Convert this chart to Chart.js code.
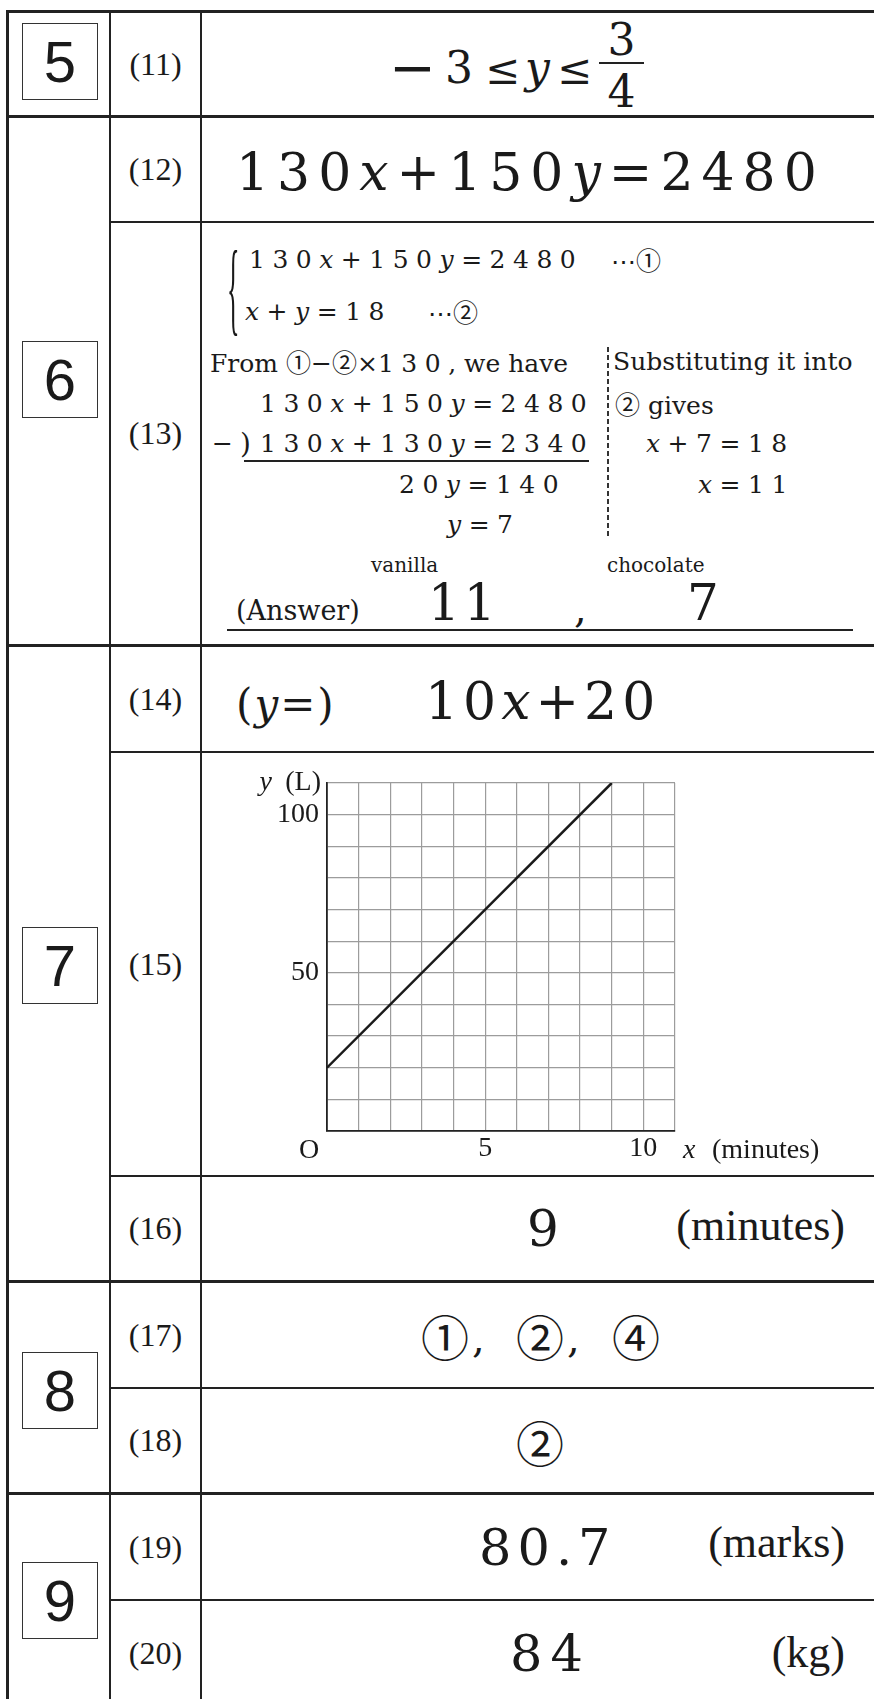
<!DOCTYPE html>
<html>
<head>
<meta charset="utf-8">
<script src="https://cdn.jsdelivr.net/npm/chart.js"></script>
<style>
body { margin: 0; background: #fff; }
#folha { position: relative; width: 874px; height: 1699px; overflow: hidden; background: #fff; color: #1a1a1a; font-family: "DejaVu Serif", serif; }
.ln { position: absolute; background: #222; }
.t { position: absolute; line-height: 1; white-space: nowrap; }
.i { font-style: italic; }
.c { font-family: "Noto Sans CJK JP", sans-serif; }
.eq { letter-spacing: 7.5px; }
.box { position: absolute; left: 22px; width: 74px; height: 75px; border: 1.5px solid #333; font: 58px "Liberation Sans", Arial, sans-serif; display: flex; align-items: center; justify-content: center; }
.q { position: absolute; left: 111px; width: 89px; display: flex; align-items: center; justify-content: center; font: 32px "Liberation Serif", serif; }
.un { position: absolute; right: 29px; font-family: "Liberation Serif", serif; font-size: 44px; }
.tr { position: absolute; left: 607px; top: 347px; width: 1.5px; height: 191px; background: repeating-linear-gradient(to bottom, #333 0 5px, transparent 5px 8px); }
</style>
</head>
<body>
<div id="folha">
  <!-- linhas da tabela -->
  <div class="ln" style="left:6px;top:10px;width:868px;height:3px"></div>
  <div class="ln" style="left:6px;top:10px;width:3px;height:1689px"></div>
  <div class="ln" style="left:109px;top:13px;width:2px;height:1686px"></div>
  <div class="ln" style="left:200px;top:13px;width:2px;height:1686px"></div>
  <div class="ln" style="left:6px;top:115px;width:868px;height:3px"></div>
  <div class="ln" style="left:6px;top:644px;width:868px;height:3px"></div>
  <div class="ln" style="left:6px;top:1280px;width:868px;height:3px"></div>
  <div class="ln" style="left:6px;top:1492px;width:868px;height:3px"></div>
  <div class="ln" style="left:110px;top:221px;width:764px;height:2px"></div>
  <div class="ln" style="left:110px;top:751px;width:764px;height:2px"></div>
  <div class="ln" style="left:110px;top:1175px;width:764px;height:2px"></div>
  <div class="ln" style="left:110px;top:1387px;width:764px;height:2px"></div>
  <div class="ln" style="left:110px;top:1599px;width:764px;height:2px"></div>

  <!-- numeros das secoes -->
  <div class="box" style="top:23px">5</div>
  <div class="box" style="top:341px">6</div>
  <div class="box" style="top:927px">7</div>
  <div class="box" style="top:1352px">8</div>
  <div class="box" style="top:1562px">9</div>

  <!-- numeros das questoes -->
  <div class="q" style="top:13px;height:102px">(11)</div>
  <div class="q" style="top:118px;height:103px">(12)</div>
  <div class="q" style="top:223px;height:421px">(13)</div>
  <div class="q" style="top:647px;height:104px">(14)</div>
  <div class="q" style="top:753px;height:422px">(15)</div>
  <div class="q" style="top:1177px;height:103px">(16)</div>
  <div class="q" style="top:1283px;height:104px">(17)</div>
  <div class="q" style="top:1389px;height:103px">(18)</div>
  <div class="q" style="top:1495px;height:104px">(19)</div>
  <div class="q" style="top:1601px;height:105px">(20)</div>

  <!-- (11) -->
  <div class="t" style="left:389px;font-size:56px" data-b="87">−</div>
  <div class="t" style="left:445px;font-size:44px" data-b="83">3</div>
  <div class="t" style="left:485px;font-size:42px" data-b="84">≤</div>
  <div class="t i" style="left:525px;font-size:44px" data-b="83">y</div>
  <div class="t" style="left:557px;font-size:42px" data-b="84">≤</div>
  <div class="ln" style="left:599px;top:62px;width:45px;height:2px"></div>
  <div class="t" style="left:599px;width:45px;text-align:center;font-size:44px" data-b="55">3</div>
  <div class="t" style="left:599px;width:45px;text-align:center;font-size:44px" data-b="107">4</div>

  <!-- (12) -->
  <div class="t" style="left:236px;font-size:52px;letter-spacing:8px" data-b="190">130<span class="i">x</span>+150<span class="i">y</span>=2480</div>

  <!-- (13) -->
  <div class="t" style="left:227px;top:235px;font:104px 'Liberation Serif';transform:scaleX(0.25);transform-origin:left top;line-height:1">{</div>
  <div class="t eq" style="left:249px;font-size:25px" data-b="268">130<span class="i">x</span>+150<span class="i">y</span>=2480</div>
  <div class="t" style="left:611px;font-size:25px" data-b="268">⋯<span class="c">①</span></div>
  <div class="t eq" style="left:245px;font-size:25px" data-b="320"><span class="i">x</span>+<span class="i">y</span>=18</div>
  <div class="t" style="left:428px;font-size:25px" data-b="320">⋯<span class="c">②</span></div>
  <div class="t" style="left:210px;font-size:25px" data-b="370">From <span class="c">①</span>−<span class="c">②</span>×<span class="eq">130</span>, we have</div>
  <div class="tr"></div>
  <div class="t" style="left:613px;font-size:25px" data-b="370">Substituting it into</div>
  <div class="t eq" style="left:260px;font-size:25px" data-b="412">130<span class="i">x</span>+150<span class="i">y</span>=2480</div>
  <div class="t" style="left:615px;font-size:25px" data-b="412"><span class="c">②</span> gives</div>
  <div class="t" style="left:212px;font-size:25px" data-b="452">−</div>
  <div class="t" style="left:240px;font-size:28px" data-b="454">)</div>
  <div class="t eq" style="left:260px;font-size:25px" data-b="452">130<span class="i">x</span>+130<span class="i">y</span>=2340</div>
  <div class="ln" style="left:244px;top:460px;width:345px;height:1.5px"></div>
  <div class="t eq" style="left:646px;font-size:25px" data-b="452"><span class="i">x</span>+7=18</div>
  <div class="t eq" style="left:399px;font-size:25px" data-b="493">20<span class="i">y</span>=140</div>
  <div class="t eq" style="left:698px;font-size:25px" data-b="493"><span class="i">x</span>=11</div>
  <div class="t eq" style="left:447px;font-size:25px" data-b="533"><span class="i">y</span>=7</div>
  <div class="t" style="left:371px;font-size:20px" data-b="572">vanilla</div>
  <div class="t" style="left:607px;font-size:20px" data-b="572">chocolate</div>
  <div class="t" style="left:236px;font-size:27px" data-b="620">(Answer)</div>
  <div class="t" style="left:428px;font-size:50px;letter-spacing:4px" data-b="620">11</div>
  <div class="t" style="left:574px;font-size:40px" data-b="622">,</div>
  <div class="t" style="left:687px;font-size:50px" data-b="620">7</div>
  <div class="ln" style="left:227px;top:629px;width:626px;height:2px"></div>

  <!-- (14) -->
  <div class="t" style="left:236px;font-size:42px;letter-spacing:2px" data-b="719">(<span class="i">y</span>=)</div>
  <div class="t" style="left:425px;font-size:52px;letter-spacing:5px" data-b="719">10<span class="i">x</span>+20</div>

  <!-- (15) grafico -->
  <div style="position:absolute;left:202px;top:753px;width:672px;height:422px">
    <canvas id="grafico"></canvas>
  </div>

  <!-- (16) -->
  <div class="t" style="left:527px;font-size:50px" data-b="1246">9</div>
  <div class="t un" data-b="1241">(minutes)</div>

  <!-- (17) e (18) -->
  <div class="t c" style="left:421px;font-size:48px" data-b="1352">①</div>
  <div class="t" style="left:472px;font-size:40px" data-b="1352">,</div>
  <div class="t c" style="left:516px;font-size:48px" data-b="1352">②</div>
  <div class="t" style="left:567px;font-size:40px" data-b="1352">,</div>
  <div class="t c" style="left:612px;font-size:48px" data-b="1352">④</div>
  <div class="t c" style="left:516px;font-size:48px" data-b="1458">②</div>

  <!-- (19) e (20) -->
  <div class="t" style="left:479px;font-size:51px;letter-spacing:6px" data-b="1565">80.7</div>
  <div class="t un" data-b="1558">(marks)</div>
  <div class="t" style="left:510px;font-size:51px;letter-spacing:8px" data-b="1671">84</div>
  <div class="t un" data-b="1668">(kg)</div>
</div>

<script>
// Dados do grafico (15): y = 10x + 20
const minutos = [0, 9];
const litros = [20, 110];
const rotulosX = [5, 10];
const rotulosY = [50, 100];
const maxX = 11;
const maxY = 110;

// Posiciona os textos pela linha de base
document.querySelectorAll('.t[data-b]').forEach(el => {
    const fs = parseFloat(getComputedStyle(el).fontSize);
    el.style.top = (parseFloat(el.dataset.b) - 0.845 * fs) + 'px';
});

// Textos extras dos eixos: O, y (L), x (minutes)
const textosEixos = {
    id: 'textosEixos',
    afterDraw(chart) {
        const { ctx, chartArea: a } = chart;
        ctx.save();
        ctx.fillStyle = '#1a1a1a';
        ctx.textBaseline = 'alphabetic';
        ctx.font = '28px "Liberation Serif"';
        ctx.textAlign = 'center';
        ctx.fillText('O', a.left - 18, a.bottom + 27);
        ctx.textAlign = 'left';
        ctx.font = 'italic 28px "Liberation Serif"';
        ctx.fillText('x', a.right + 8, a.bottom + 27);
        ctx.font = '28px "Liberation Serif"';
        ctx.fillText('(minutes)', a.right + 37, a.bottom + 27);
        ctx.textAlign = 'right';
        ctx.fillText('(L)', a.left - 6, a.top + 7);
        ctx.font = 'italic 28px "Liberation Serif"';
        ctx.fillText('y', a.left - 55, a.top + 7);
        ctx.restore();
    }
};

const ctx = document.getElementById('grafico').getContext('2d');
new Chart(ctx, {
    type: 'line',
    data: {
        datasets: [{
            data: minutos.map((m, i) => ({ x: m, y: litros[i] })),
            borderColor: '#1a1a1a',
            borderWidth: 2.5,
            pointRadius: 0,
            tension: 0
        }]
    },
    options: {
        responsive: true,
        maintainAspectRatio: false,
        animation: false,
        layout: { padding: { left: 0, top: 30, right: 199, bottom: 0 } },
        plugins: { legend: { display: false }, tooltip: { enabled: false } },
        scales: {
            x: {
                type: 'linear',
                min: 0,
                max: maxX,
                afterFit: s => { s.height = 44; },
                grid: { color: '#9c9c9c', lineWidth: 1.2, drawTicks: false },
                border: { color: '#222', width: 1.8 },
                ticks: {
                    stepSize: 1,
                    autoSkip: false,
                    maxRotation: 0,
                    padding: 1,
                    color: '#1a1a1a',
                    font: { family: 'Liberation Serif', size: 28 },
                    callback: v => rotulosX.includes(v) ? String(v) : ''
                }
            },
            y: {
                min: 0,
                max: maxY,
                afterFit: s => { s.width = 125; },
                grid: { color: '#9c9c9c', lineWidth: 1.2, drawTicks: false },
                border: { color: '#222', width: 1.8 },
                ticks: {
                    stepSize: 10,
                    autoSkip: false,
                    padding: 8,
                    color: '#1a1a1a',
                    font: { family: 'Liberation Serif', size: 28 },
                    callback: v => rotulosY.includes(v) ? String(v) : ''
                }
            }
        }
    },
    plugins: [textosEixos]
});
</script>
</body>
</html>
